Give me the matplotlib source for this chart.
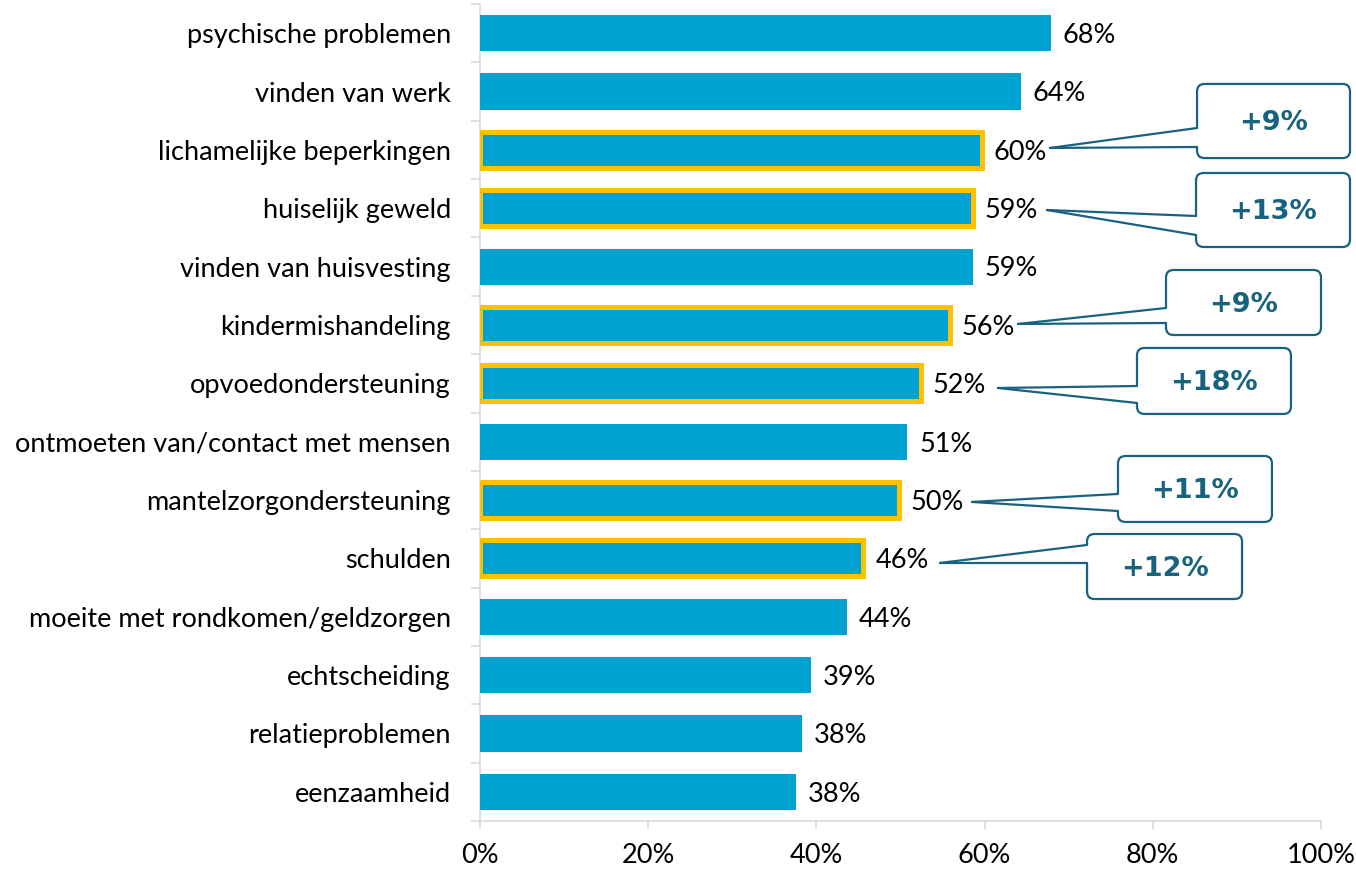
import matplotlib
matplotlib.use("Agg")
import matplotlib.pyplot as plt
from matplotlib.patches import FancyBboxPatch, Polygon
from matplotlib.lines import Line2D

plt.rcParams['font.family'] = ['Lato', 'DejaVu Sans']

categories = [
    "psychische problemen",
    "vinden van werk",
    "lichamelijke beperkingen",
    "huiselijk geweld",
    "vinden van huisvesting",
    "kindermishandeling",
    "opvoedondersteuning",
    "ontmoeten van/contact met mensen",
    "mantelzorgondersteuning",
    "schulden",
    "moeite met rondkomen/geldzorgen",
    "echtscheiding",
    "relatieproblemen",
    "eenzaamheid",
]
values = [67.9, 64.3, 59.7, 58.6, 58.6, 55.9, 52.4, 50.8, 49.8, 45.6, 43.6, 39.4, 38.3, 37.6]
value_labels = ["68%", "64%", "60%", "59%", "59%", "56%", "52%", "51%", "50%", "46%", "44%", "39%", "38%", "38%"]
highlighted = [False, False, True, True, False, True, True, False, True, True, False, False, False, False]
change_labels = {2: "+9%", 3: "+13%", 5: "+9%", 6: "+18%", 8: "+11%", 9: "+12%"}
x_ticks = [0, 20, 40, 60, 80, 100]
x_tick_labels = ["0%", "20%", "40%", "60%", "80%", "100%"]

# callout layout (data units: x in %, y in row units)
# row: (box_x0, box_x1, box_y0, box_y1, base_y0, base_y1, tip_x, tip_y)
callout_layout = {
    2: (85.26, 103.45, 0.87, 2.14, 1.625, 1.950, 67.78, 1.967),
    3: (85.14, 103.45, 2.396, 3.664, 3.133, 3.458, 67.42, 3.030),
    5: (81.57, 100.0, 4.058, 5.172, 4.709, 4.966, 63.97, 4.983),
    6: (78.12, 96.43, 5.394, 6.525, 6.046, 6.337, 61.59, 6.080),
    8: (75.86, 94.17, 7.245, 8.376, 7.896, 8.188, 58.50, 8.033),
    9: (72.18, 90.61, 8.582, 9.696, 8.770, 9.078, 54.70, 9.078),
}

BAR = '#00A2D2'
GOLD = '#FFC000'
TEAL = '#17627F'
GRID = '#D9D9D9'
FS = 19.5

fig = plt.figure(figsize=(13.56, 8.71), dpi=100)
ax = fig.add_axes([480/1356, 1-821/871, (1321-480)/1356, (821-4)/871])

n = len(categories)
ys = list(range(n))
for i, (v, h) in enumerate(zip(values, highlighted)):
    if h:
        ax.barh(i, v, height=0.62, color=BAR, edgecolor=GOLD, linewidth=3.6, zorder=3)
    else:
        ax.barh(i, v, height=0.62, color=BAR, edgecolor='none', zorder=3)
    ax.text(v + 1.4, i + 0.04, value_labels[i], va='center', ha='left', fontsize=FS, color='black', zorder=4)

ax.set_xlim(0, 100)
ax.set_ylim(n - 0.5, -0.5)

for s in ['top', 'right']:
    ax.spines[s].set_visible(False)
ax.spines['left'].set_color(GRID)
ax.spines['bottom'].set_color(GRID)
ax.spines['left'].set_linewidth(1.2)
ax.spines['bottom'].set_linewidth(1.2)

ax.set_xticks(x_ticks)
ax.set_xticklabels(x_tick_labels, fontsize=FS)
ax.tick_params(axis='x', direction='out', length=6, width=1.2, color=GRID, pad=10)

ax.set_yticks([i - 0.5 for i in range(n + 1)])
ax.set_yticklabels([])
ax.tick_params(axis='y', which='major', direction='out', length=6.5, width=1.2, color=GRID)
ax.set_yticks(ys, minor=True)
ax.set_yticklabels(categories, minor=True, fontsize=FS)
ax.tick_params(axis='y', which='minor', length=0, pad=21)
for lab in ax.get_yticklabels(minor=True):
    lab.set_y(lab.get_position()[1])

for row, text in change_labels.items():
    bx0, bx1, by0, by1, b0, b1, tx, ty = callout_layout[row]
    box = FancyBboxPatch((bx0, by0), bx1 - bx0, by1 - by0,
                         boxstyle="round,pad=0,rounding_size=0.9",
                         mutation_aspect=0.144,
                         facecolor='white', edgecolor=TEAL, linewidth=1.6,
                         clip_on=False, zorder=5)
    ax.add_patch(box)
    wedge = Polygon([(tx, ty), (bx0 + 0.4, b0), (bx0 + 0.4, b1)], closed=True,
                    facecolor='white', edgecolor='none', clip_on=False, zorder=6)
    ax.add_patch(wedge)
    for by in (b0, b1):
        ax.add_line(Line2D([tx, bx0], [ty, by], color=TEAL, linewidth=1.6,
                           clip_on=False, zorder=7, solid_capstyle='round'))
    ax.text((bx0 + bx1) / 2, (by0 + by1) / 2 + 0.04, text, ha='center', va='center',
            fontsize=19.5, fontweight='bold', color=TEAL,
            family=['DejaVu Sans'], zorder=8, clip_on=False)

fig.savefig('out.png', dpi=100)
